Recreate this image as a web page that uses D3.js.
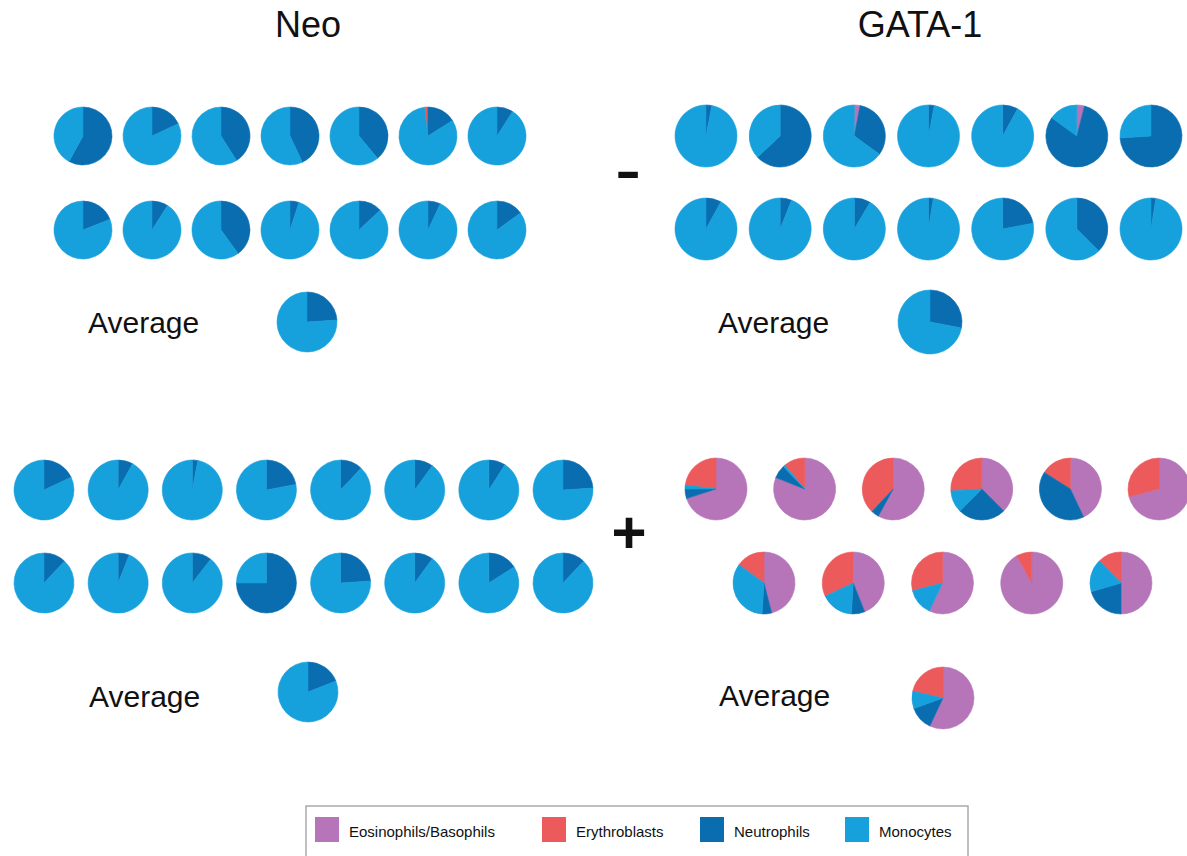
<!DOCTYPE html>
<html>
<head>
<meta charset="utf-8">
<script src="https://cdn.jsdelivr.net/npm/d3@7"></script>
<style>
  body { margin: 0; background: #fff; }
  svg { display: block; font-family: Arial, "Liberation Sans", sans-serif; }
</style>
</head>
<body>
<div id="chart"></div>
<script>
// categories in legend order; each pie value is [eos, ery, neut, mono] in %
var categories = ["Eosinophils/Basophils", "Erythroblasts", "Neutrophils", "Monocytes"]
var colors = ["#b675b8", "#ec5a5c", "#0a6db0", "#16a0dc"]
// clockwise from 12 o'clock
var sliceOrder = ["Eosinophils/Basophils", "Neutrophils", "Monocytes", "Erythroblasts"]

var titles = ["Neo", "GATA-1"]

// Neo, no treatment (-)
var negNeo = [
  [[0,0,58,42],[0,0,18,82],[0,0,41,59],[0,0,43,57],[0,0,39,61],[0,2,16,82],[0,0,9,91]],
  [[0,0,19,81],[0,0,9,91],[0,0,40,60],[0,0,5,95],[0,0,13,87],[0,0,7,93],[0,0,15,85]]
]
var negNeoAvg = [0,0,24,76]

// GATA-1 (-)
var negGata = [
  [[0,0,3,97],[0,0,63,37],[3,0,32,65],[0,0,3,97],[0,0,8,92],[4,0,81,15],[0,0,74,26]],
  [[0,0,8,92],[0,0,6,94],[0,0,8.5,91.5],[0,0,2.5,97.5],[0,0,22,78],[0,0,37.5,62.5],[0,0,2.5,97.5]]
]
var negGataAvg = [0,0,28,72]

// Neo (+)
var posNeo = [
  [[0,0,18,82],[0,0,8,92],[0,0,3,97],[0,0,22,78],[0,0,12,88],[0,0,10,90],[0,0,9,91],[0,0,24,76]],
  [[0,0,12,88],[0,0,6,94],[0,0,10.5,89.5],[0,0,75,25],[0,0,24,76],[0,0,10,90],[0,0,16,84],[0,0,12,88]]
]
var posNeoAvg = [0,0,19,81]

// GATA-1 (+)
var posGata = [
  [[70,23,5,2],[81,11,7,1],[58,38,4,0],[37.5,26,25,11.5],[43,16,41,0],[71,29,0,0]],
  [[46,15,5,34],[44,32,7,17],[57,29,0,14],[92,8,0,0],[50,12.5,20.5,17]]
]
var posGataAvg = [57,21.5,12.5,9]

var width = 1187
var height = 856

var svg = d3.select("#chart")
  .append("svg")
  .attr("width", width)
  .attr("height", height)

svg.append("rect")
  .attr("width", width)
  .attr("height", height)
  .attr("fill", "#fff")

var color = d3.scaleOrdinal().domain(categories).range(colors)

var pie = d3.pie()
  .value(function(d) { return d.value })
  .sort(function(a, b) { return sliceOrder.indexOf(a.key) - sliceOrder.indexOf(b.key) })

function drawPie(vals, cx, cy, r) {
  var arc = d3.arc().innerRadius(0).outerRadius(r)
  var items = categories.map(function(c, i) { return {key: c, value: vals[i]} })
    .filter(function(d) { return d.value > 0 })
  var g = svg.append("g").attr("transform", "translate(" + cx + "," + cy + ")")
  g.selectAll("path")
    .data(pie(items))
    .enter()
    .append("path")
    .attr("d", arc)
    .attr("fill", function(d) { return color(d.data.key) })
    .attr("stroke", function(d) { return color(d.data.key) })
    .attr("stroke-width", 0.6)
}

// rows: list of [firstX, lastX, y] for each row
function drawPanel(data, rows, r) {
  data.forEach(function(row, ri) {
    var x = d3.scaleLinear().domain([0, row.length - 1]).range([rows[ri][0], rows[ri][1]])
    row.forEach(function(vals, i) {
      drawPie(vals, x(i), rows[ri][2], r)
    })
  })
}

drawPanel(negNeo, [[83, 497, 136], [83, 497, 230]], 29)
drawPanel(negGata, [[706, 1151, 136], [706, 1151, 229]], 31)
drawPanel(posNeo, [[44, 563, 490], [44, 563, 583]], 30)
drawPanel(posGata, [[716, 1159, 489], [764, 1121, 583]], 31)

drawPie(negNeoAvg, 307, 322, 30)
drawPie(negGataAvg, 930, 322, 32)
drawPie(posNeoAvg, 308, 692, 30)
drawPie(posGataAvg, 943, 698, 31)

// titles
svg.append("text").text(titles[0])
  .attr("x", 308).attr("y", 37)
  .attr("text-anchor", "middle")
  .attr("font-size", 36)
  .attr("fill", "#111")
svg.append("text").text(titles[1])
  .attr("x", 920).attr("y", 37)
  .attr("text-anchor", "middle")
  .attr("font-size", 36)
  .attr("fill", "#111")

// condition signs
svg.append("text").text("-")
  .attr("x", 628).attr("y", 196)
  .attr("text-anchor", "middle")
  .attr("font-size", 80)
  .attr("fill", "#111")
svg.append("text").text("+")
  .attr("x", 629).attr("y", 553)
  .attr("text-anchor", "middle")
  .attr("font-size", 60)
  .attr("font-weight", "bold")
  .attr("fill", "#111")

// "Average" labels
var avgLabels = [[88, 333], [718, 333], [89, 707], [719, 706]]
avgLabels.forEach(function(p) {
  svg.append("text").text("Average")
    .attr("x", p[0]).attr("y", p[1])
    .attr("font-size", 30)
    .attr("fill", "#111")
})

// legend
var legend = svg.append("g")
legend.append("rect")
  .attr("x", 306).attr("y", 806)
  .attr("width", 662).attr("height", 60)
  .attr("fill", "none")
  .attr("stroke", "#aaa")
  .attr("stroke-width", 1.5)

var legendX = [315, 542, 700, 845]
categories.forEach(function(c, i) {
  legend.append("rect")
    .attr("x", legendX[i]).attr("y", 817)
    .attr("width", 24).attr("height", 25)
    .attr("fill", color(c))
  legend.append("text").text(c)
    .attr("x", legendX[i] + 34).attr("y", 837)
    .attr("font-size", 15)
    .attr("fill", "#111")
})
</script>
</body>
</html>
